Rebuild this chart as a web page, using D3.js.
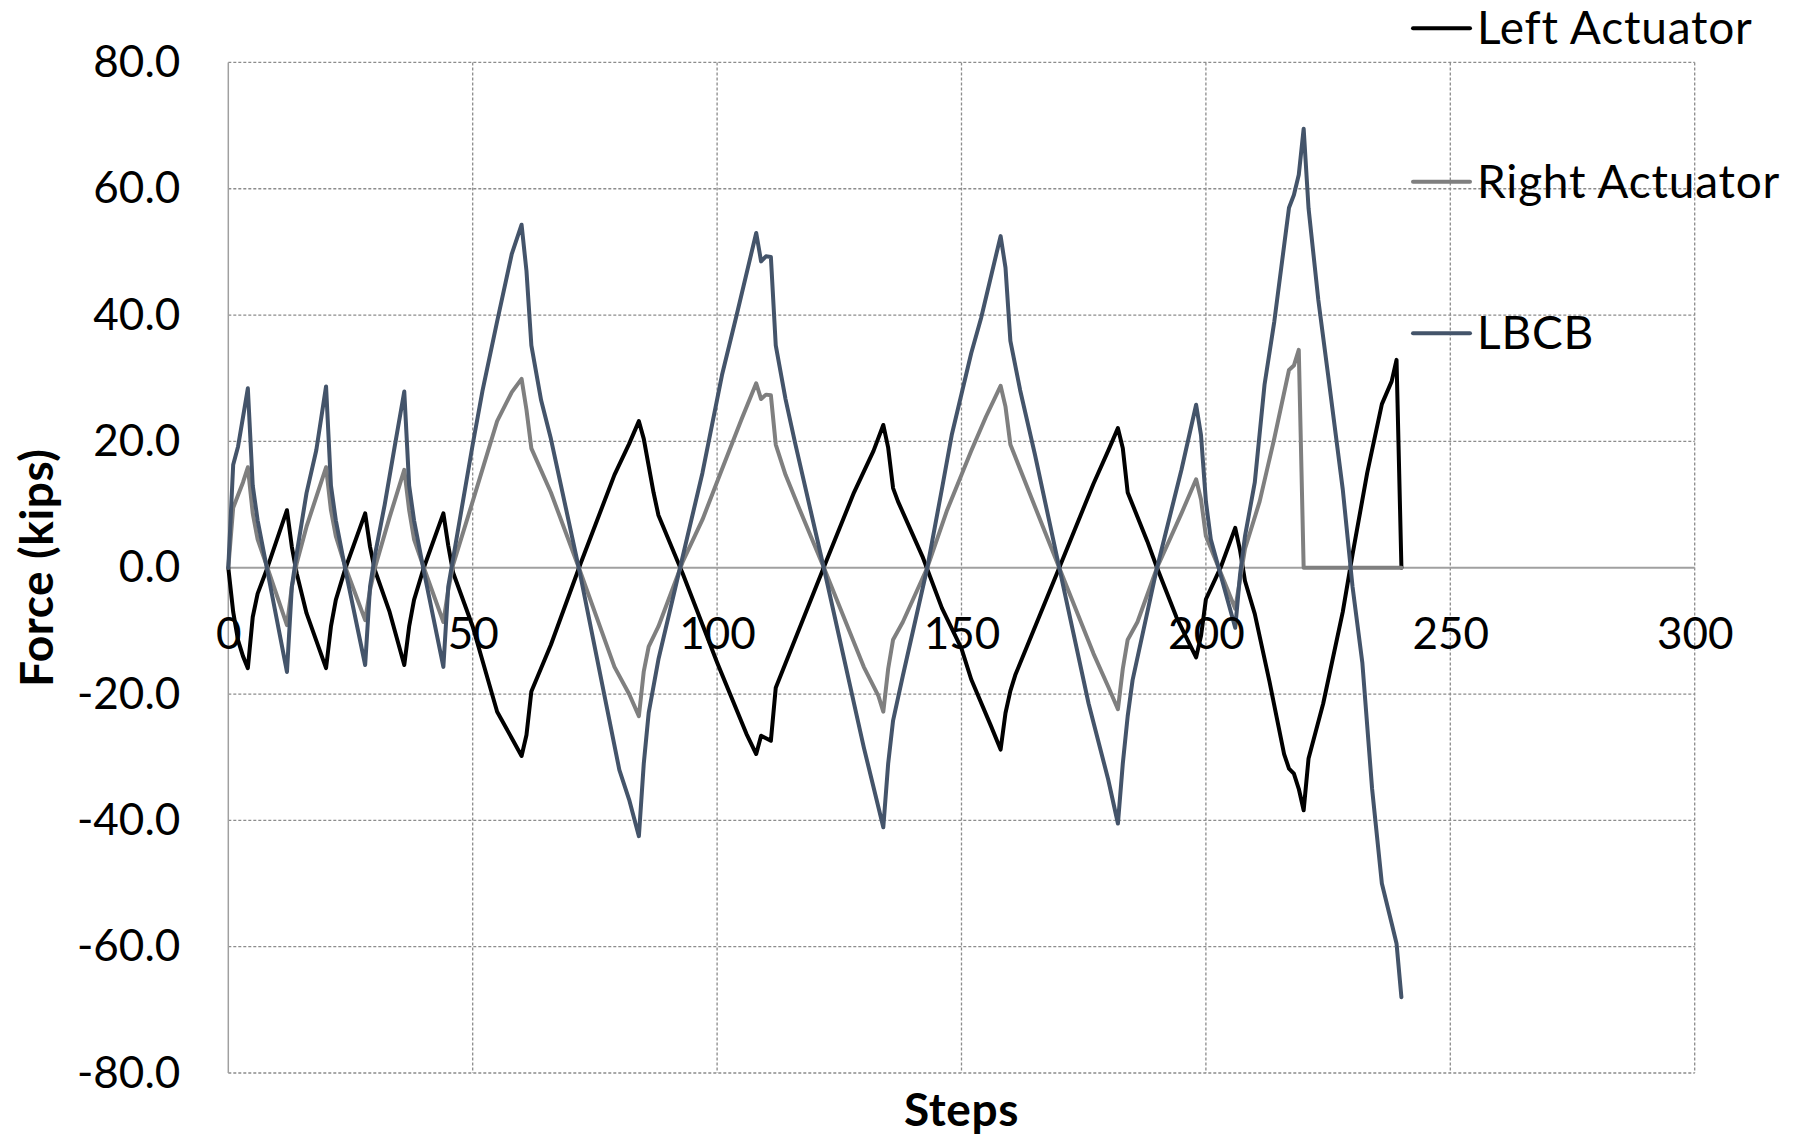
<!DOCTYPE html>
<html>
<head>
<meta charset="utf-8">
<script src="https://cdn.jsdelivr.net/npm/d3@7"></script>
<style>
  body { margin: 0; background: #fff; }
  text { font-family: Lato, "Open Sans", sans-serif; }
</style>
</head>
<body>
<div id="chart"></div>
<script>
// [step, force] pairs
const leftActuator = [[0,0],[1,-7],[2,-11.5],[3,-14],[4,-15.9],[5,-7.8],[6,-4.1],[8,0],[12,9.1],[13,3.3],[14,-0.9],[16,-7.2],[20,-15.9],[21,-9.3],[22,-5.1],[24,0],[28,8.6],[29,3.3],[30,-0.4],[33,-7],[36,-15.4],[37,-9.3],[38,-5.1],[40,0],[44,8.6],[45,3.5],[46,-0.8],[50,-9.3],[55,-22.8],[58,-27],[60,-29.8],[61,-26.5],[62,-19.6],[66,-12.2],[72,0.5],[79,14.7],[82,19.6],[84,23.2],[85,20.4],[87,11.9],[88,8.3],[93,-1],[100,-15],[106,-26.3],[108,-29.5],[109,-26.6],[110,-27],[111,-27.4],[112,-19],[122,0.4],[128,11.9],[132,18.5],[134,22.6],[135,19],[136,12.6],[137,10.5],[142,1.8],[146,-6.4],[150,-12.8],[152,-17.7],[156,-25],[158,-28.8],[159,-23],[160,-19.5],[161,-17],[170,0],[177,13.3],[180,18.5],[182,22.1],[183,18.9],[184,11.9],[188,4.2],[190,0],[194,-7.9],[198,-14.2],[199,-10.8],[200,-5],[203,0],[206,6.3],[207,2.7],[208,-2.1],[210,-7.3],[213,-18],[216,-29.5],[217,-31.8],[218,-32.6],[219,-35],[220,-38.4],[221,-30.2],[224,-21.5],[228,-7],[230,2.1],[233,15],[236,25.9],[238,29.5],[239,32.9],[240,0]];

const rightActuator = [[0,0],[1,9.5],[2,11.5],[3,13.5],[4,15.9],[5,8.6],[6,4.5],[8,0],[12,-9.1],[13,-3],[14,0.7],[16,6.5],[20,15.9],[21,9.1],[22,5],[24,0],[28,-8.3],[29,-3.5],[30,0],[33,8],[36,15.5],[37,9.1],[38,4.5],[40,0],[44,-8.6],[45,-3.5],[46,0.5],[50,10.5],[55,23.2],[58,27.8],[60,29.9],[61,25],[62,18.9],[66,11.9],[72,-0.6],[79,-15.7],[82,-20],[84,-23.5],[85,-16.4],[86,-12.5],[88,-9.3],[93,1],[97,7.6],[101,15.6],[105,23.5],[108,29.2],[109,26.7],[110,27.4],[111,27.3],[112,19.5],[114,14.7],[117,9],[122,-0.3],[130,-15.7],[133,-20.3],[134,-22.8],[135,-16],[136,-11.4],[138,-8.6],[143,0],[147,9],[152,18.5],[155,23.9],[158,28.8],[159,25.5],[160,19.5],[167,5.8],[170,0],[177,-13.6],[180,-18.8],[182,-22.4],[183,-16],[184,-11.4],[186,-8.6],[190,0],[195,8.6],[198,14],[199,10.8],[200,5],[206,-6.5],[208,3],[211,10.5],[214,20.5],[217,31.3],[218,32],[219,34.5],[220,0],[240,0]];

const lbcb = [[0,0],[1,16.3],[2,19.2],[4,28.4],[5,13],[6,7.5],[8,-0.5],[12,-16.5],[13,-3],[14,2.3],[16,11.8],[18,18.6],[20,28.7],[21,13],[22,7.5],[24,-0.5],[28,-15.4],[29,-3],[30,2],[32,10],[34,19],[36,27.9],[37,13],[38,7.5],[40,-0.5],[44,-15.7],[45,-3],[46,1.5],[50,19.5],[52,28],[55,39],[58,49.7],[60,54.3],[61,47],[62,35.2],[64,26.5],[66,20.4],[72,-1.1],[80,-32],[82,-36.7],[84,-42.5],[85,-31],[86,-23],[88,-14.5],[97,15],[101,30.5],[104,40],[108,53],[109,48.5],[110,49.3],[111,49.2],[112,35.2],[114,26.7],[116,19.6],[122,-0.6],[130,-28.4],[134,-41.1],[135,-31],[136,-24.2],[138,-17.1],[143,0],[146,12.5],[148,21],[152,34],[154,39.5],[158,52.5],[159,47.5],[160,35.9],[162,28.1],[165,18],[170,0],[176,-21.5],[180,-33.5],[182,-40.5],[183,-31],[184,-23.5],[185,-17.8],[190,0],[195,15.5],[198,25.8],[199,21],[200,10.5],[201,4.5],[206,-9.5],[207,-1],[208,5],[210,13.5],[212,29],[214,39],[217,57],[218,59],[219,62.2],[220,69.5],[221,56.9],[223,42.4],[225,30.5],[228,12.4],[230,-3],[232,-15],[234,-35],[236,-50],[238,-56.3],[239,-59.5],[240,-68]];

const seriesNames = ['Left Actuator', 'Right Actuator', 'LBCB'];
const seriesColors = ['#000000', '#7f7f7f', '#44546a'];
const xTicks = [0, 50, 100, 150, 200, 250, 300];
const yTicks = [-80, -60, -40, -20, 0, 20, 40, 60, 80];

const width = 1797, height = 1136;
const plot = {left: 228.3, right: 1694.7, top: 62.4, bottom: 1073};

const svg = d3.select('#chart').append('svg')
    .attr('width', width)
    .attr('height', height)
    .style('background', '#fff');

const x = d3.scaleLinear().domain([0, 300]).range([plot.left, plot.right]);
const y = d3.scaleLinear().domain([-80, 80]).range([plot.bottom, plot.top]);

// dashed grid
svg.append('g')
    .selectAll('line.h')
    .data(yTicks.filter(d => d !== 0))
    .enter().append('line')
    .attr('x1', plot.left).attr('x2', plot.right)
    .attr('y1', d => y(d)).attr('y2', d => y(d))
    .attr('stroke', '#8c8c8c').attr('stroke-width', 1.3)
    .attr('stroke-dasharray', '3,2');

svg.append('g')
    .selectAll('line.v')
    .data(xTicks.filter(d => d !== 0))
    .enter().append('line')
    .attr('x1', d => x(d)).attr('x2', d => x(d))
    .attr('y1', plot.top).attr('y2', plot.bottom)
    .attr('stroke', '#8c8c8c').attr('stroke-width', 1.3)
    .attr('stroke-dasharray', '3,2');

// solid axis lines
svg.append('line')
    .attr('x1', x(0)).attr('x2', x(0))
    .attr('y1', plot.top).attr('y2', plot.bottom)
    .attr('stroke', '#a0a0a0').attr('stroke-width', 1.5);

svg.append('line')
    .attr('x1', plot.left).attr('x2', plot.right)
    .attr('y1', y(0)).attr('y2', y(0))
    .attr('stroke', '#a0a0a0').attr('stroke-width', 2);

// y tick labels
const yAxis = svg.append('g')
    .attr('transform', 'translate(' + plot.left + ',0)')
    .call(d3.axisLeft(y).tickValues(yTicks).tickSize(0).tickPadding(48)
        .tickFormat(d => d.toFixed(1)));
yAxis.select('.domain').remove();
yAxis.selectAll('text')
    .style('font-size', '44px')
    .style('font-family', 'Lato, sans-serif')
    .attr('fill', '#000');

// lines
const line = d3.line()
    .x(d => x(d[0]))
    .y(d => y(d[1]));

[leftActuator, rightActuator, lbcb].forEach((data, i) => {
    svg.append('path')
        .datum(data)
        .attr('d', line)
        .attr('fill', 'none')
        .attr('stroke', seriesColors[i])
        .attr('stroke-width', 4)
        .attr('stroke-linejoin', 'round')
        .attr('stroke-linecap', 'round');
});

// x tick labels sit on the zero line, drawn over the data like Excel does
const xAxis = svg.append('g')
    .attr('transform', 'translate(0,' + y(0) + ')')
    .call(d3.axisBottom(x).tickValues(xTicks).tickSize(0).tickPadding(50)
        .tickFormat(d3.format('d')));
xAxis.select('.domain').remove();
xAxis.selectAll('text')
    .style('font-size', '44px')
    .style('font-family', 'Lato, sans-serif')
    .attr('fill', '#000');

// axis titles
svg.append('text')
    .attr('transform', 'translate(53,' + (plot.top + plot.bottom) / 2 + ') rotate(-90)')
    .attr('text-anchor', 'middle')
    .style('font-size', '46px')
    .style('font-weight', 'bold')
    .style('letter-spacing', '0.6px')
    .text('Force (kips)');

svg.append('text')
    .attr('x', (plot.left + plot.right) / 2)
    .attr('y', 1126)
    .attr('text-anchor', 'middle')
    .style('font-size', '46px')
    .style('font-weight', 'bold')
    .style('letter-spacing', '0.6px')
    .text('Steps');

// legend
const legendY = [28.3, 181.7, 333.3];
const legend = svg.append('g')
    .selectAll('g')
    .data(seriesNames)
    .enter().append('g')
    .attr('transform', (d, i) => 'translate(1413,' + legendY[i] + ')');

legend.append('line')
    .attr('x1', 0).attr('x2', 57)
    .attr('stroke', (d, i) => seriesColors[i])
    .attr('stroke-width', 4)
    .attr('stroke-linecap', 'round');

legend.append('text')
    .attr('x', 64)
    .attr('y', 16)
    .style('font-size', '46px')
    .style('letter-spacing', '0.8px')
    .text(d => d);
</script>
</body>
</html>
